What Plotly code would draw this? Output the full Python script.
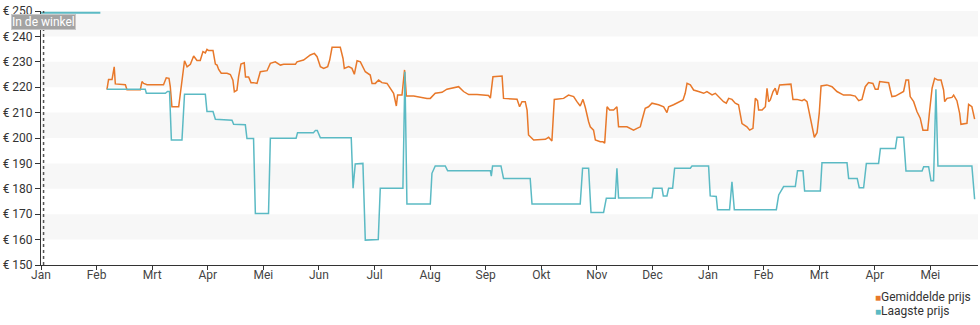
import plotly.graph_objects as go

# ---------------- data ----------------
month_labels = ["Jan", "Feb", "Mrt", "Apr", "Mei", "Jun", "Jul", "Aug", "Sep",
                "Okt", "Nov", "Dec", "Jan", "Feb", "Mrt", "Apr", "Mei"]
days_per_month = 30.44

y_ticks = [150, 160, 170, 180, 190, 200, 210, 220, 230, 240, 250]
y_tick_labels = ["€ 150", "€ 160", "€ 170", "€ 180", "€ 190", "€ 200",
                 "€ 210", "€ 220", "€ 230", "€ 240", "€ 250"]

# Gemiddelde prijs (day index since first Jan, price in euro)
avg_day = [36.1, 37.0, 38.9, 40.1, 40.7, 46.2, 47.1, 54.4, 55.3, 56.2, 58.1, 67.1, 68.6, 70.1,
           70.8, 71.7, 75.4, 76.3, 77.8, 78.6, 80.0, 81.8, 83.6, 85.4, 87.2, 88.7, 90.0, 90.9,
           91.8, 94.2, 95.5, 96.4, 97.3, 98.7, 101.9, 103.7, 105.1, 105.9, 107.3, 108.2, 109.5,
           111.3, 112.0, 113.7, 115.0, 116.4, 118.3, 120.1, 123.8, 125.6, 128.3, 131.1, 132.9,
           136.5, 139.3, 140.2, 143.8, 147.5, 149.7, 151.2, 153.0, 154.8, 157.0, 158.1, 159.4,
           163.9, 165.4, 166.1, 168.5, 170.3, 171.6, 173.1, 174.9, 177.6, 180.3, 181.3, 183.1,
           184.9, 186.7, 189.5, 191.3, 193.1, 194.6, 195.3, 197.7, 199.1, 200.1, 204.1, 211.4,
           213.2, 215.9, 219.6, 222.3, 226.0, 228.7, 231.4, 234.2, 238.8, 245.1, 246.1, 247.5,
           252.5, 253.3, 260.7, 262.1, 263.4, 265.2, 266.2, 267.0, 269.8, 276.2, 278.0, 279.8,
           281.1, 286.2, 288.9, 291.7, 293.5, 295.3, 296.8, 298.1, 299.9, 300.8, 302.6, 303.6,
           306.3, 307.8, 308.7, 310.0, 311.4, 313.6, 315.4, 316.3, 320.9, 324.5, 326.4, 328.2,
           329.1, 330.9, 332.7, 334.6, 338.2, 341.0, 342.8, 343.7, 346.4, 350.1, 351.6, 352.8,
           353.8, 355.6, 357.4, 360.1, 362.9, 364.7, 367.5, 369.3, 371.1, 373.8, 375.3, 376.6,
           378.4, 380.2, 382.0, 383.9, 386.6, 388.1, 389.9, 391.2, 392.4, 393.0, 394.9, 396.7,
           397.6, 398.5, 399.4, 400.9, 402.1, 403.1, 404.5, 410.7, 411.8, 414.0, 416.8, 418.0,
           419.5, 421.3, 422.8, 423.5, 425.0, 426.2, 427.2, 430.4, 433.2, 435.9, 439.5, 443.2,
           445.9, 447.8, 449.6, 451.4, 453.2, 455.6, 456.9, 458.4, 459.3, 464.2, 465.1, 466.0,
           467.9, 470.2, 472.4, 473.7, 475.1, 476.0, 477.9, 479.7, 481.5, 483.0, 485.6, 486.7,
           488.0, 489.4, 491.2, 492.9, 494.3, 494.9, 496.2, 498.9, 499.8, 501.6, 503.1, 503.8,
           507.1, 508.0, 509.8, 511.3]
avg_price = [219, 223, 223, 228, 221.3, 221, 219, 219, 222.2, 221.5, 221, 221, 223.7, 223.5,
             220.2, 212.3, 212.3, 217.6, 228.1, 230.4, 228, 229, 232.3, 230.5, 230.5, 234, 233.5,
             234.9, 234.4, 234.4, 229.1, 228.7, 227, 225.5, 225.5, 225, 222.8, 218.2, 218.8,
             224.1, 229.1, 229.6, 224, 224, 221.8, 221.8, 221.5, 226.1, 226.5, 229.4, 230, 228.7,
             229, 229, 229, 230, 230.7, 232.7, 233.3, 232, 228.1, 227.4, 228.1, 230.7, 235.7,
             235.7, 231.3, 227.4, 228.1, 227.4, 225.1, 230.4, 230, 226.1, 224.8, 221.5, 221.5,
             222.8, 221.8, 221.5, 219.6, 217.6, 212.6, 216.9, 216.9, 226.8, 216.5, 216.5, 215.6,
             215.6, 217.6, 218, 219.2, 219.9, 220.2, 218.3, 217.1, 217.1, 216.7, 215.7, 224.1,
             224.4, 215.6, 215.3, 212.3, 214.3, 214.3, 211, 201.2, 199.2, 199.5, 200.3, 198.8,
             215.2, 215.6, 216.9, 216.3, 214.3, 212.6, 215.2, 212, 206.4, 204.4, 203.1, 199.2,
             198.5, 198.5, 198, 212.3, 211, 211, 212.3, 204.4, 204.4, 203.1, 203.8, 204.4,
             207, 211.7, 212.3, 213.7, 213.1, 212.3, 210, 212.3, 213.1, 214.3, 215, 217.6,
             221.5, 220.9, 218.9, 218.3, 217.6, 218.3, 217, 217.6, 216.3, 214.3, 213.7, 215.6,
             215.2, 213.7, 213.1, 205.7, 204.4, 203.1, 203.8, 215.6, 214.7, 211, 211, 212.3,
             219.6, 214.3, 215, 218.3, 219.6, 217, 220.9, 221.2, 215.2, 215.2, 214.7, 215.2,
             214.3, 208.4, 203.1, 200.3, 202.1, 209.7, 220.5, 220.9, 220.2, 218.3, 216.9, 216.9,
             216.5, 214.7, 215.2, 220.2, 221.8, 221.5, 219.2, 219.2, 222.2, 221.8, 218.9, 216.3,
             216.5, 217.6, 218.3, 222.8, 222.8, 216.3, 214.3, 210.4, 207.8, 203.1, 203.1, 211,
             219.6, 223.5, 222.8, 222.8, 218.9, 214.3, 215.6, 216, 216.9, 214.7, 209.7, 205.4,
             205.8, 213.2, 212.3, 207.4]

# Laagste prijs
low_day = [36.1, 57.1, 57.7, 68.1, 69.3, 70.4, 71.4, 77.2, 78.6, 90.0, 90.9, 94.2, 95.5, 104.6,
           105.5, 111.9, 112.8, 116.4, 117.4, 124.6, 125.6, 139.7, 140.5, 149.2, 150.3, 151.3,
           153.0, 169.9, 170.9, 172.1, 176.3, 177.6, 184.7, 185.8, 198.2, 199.3, 200.4, 213.2,
           214.1, 215.9, 221.4, 222.7, 246.1, 246.6, 247.3, 251.9, 253.3, 267.9, 268.9, 295.3,
           296.6, 299.9, 301.2, 308.1, 309.6, 314.5, 315.4, 316.3, 334.6, 335.3, 340.1, 340.8,
           342.8, 343.7, 345.9, 347.0, 355.6, 356.5, 365.6, 366.5, 369.8, 370.5, 377.1, 378.4,
           379.7, 402.7, 404.0, 406.7, 413.1, 414.3, 417.3, 418.2, 426.8, 427.7, 441.4, 442.3,
           447.0, 448.1, 450.5, 452.0, 458.7, 459.7, 467.9, 468.8, 472.4, 473.7, 482.5, 483.4,
           486.1, 487.4, 488.8, 490.1, 491.2, 509.8, 511.3]
low_price = [219.2, 219.2, 217.6, 217.6, 218.3, 218.3, 199.2, 199.2, 217.2, 217.2, 210.4, 210.4,
             207.4, 207, 205.4, 205.2, 199.8, 199.8, 170.3, 170.3, 199.9, 199.9, 202.1, 202.1,
             203, 203, 200.1, 200.1, 180.2, 189.8, 190, 159.8, 160, 180.2, 180.2, 226.1, 174,
             174, 186.1, 189, 189, 187.1, 187.1, 185, 189, 189, 184.1, 184.1, 174, 174, 188.1,
             188.1, 170.7, 170.7, 176.3, 176.3, 188.1, 176.4, 176.5, 180.2, 180.2, 177.2, 177.2,
             180.2, 180.2, 188.1, 188.1, 189, 189, 177.2, 177, 171.8, 171.8, 182.8, 171.8, 171.8,
             177.6, 180.9, 180.9, 187.1, 187.1, 179.1, 179.1, 190.3, 190.3, 184.1, 184.1, 180.4,
             180.4, 190, 190, 195.9, 195.9, 200.3, 200.3, 187, 187, 188.7, 188.7, 183.2, 183.2,
             219.2, 189, 189, 175.9]

# "In de winkel" availability bar
store_day = [0, 32.5]
store_level = [249.3, 249.3]
store_marker_day = 1.4

y_bands = [(160, 170), (180, 190), (200, 210), (220, 230), (240, 250)]

ORANGE = "#e8782a"
TEAL = "#5bbac4"
FONT = "Roboto"

fig = go.Figure()
fig.add_trace(go.Scatter(x=avg_day, y=avg_price, mode="lines", name="Gemiddelde prijs",
                         line=dict(color=ORANGE, width=1.5), showlegend=False))
fig.add_trace(go.Scatter(x=low_day, y=low_price, mode="lines", name="Laagste prijs",
                         line=dict(color=TEAL, width=1.5), showlegend=False))
fig.add_trace(go.Scatter(x=store_day, y=store_level, mode="lines", name="In de winkel",
                         line=dict(color=TEAL, width=2), showlegend=False, cliponaxis=False))

shapes = []
for lo, hi in y_bands:
    shapes.append(dict(type="rect", xref="paper", yref="y", x0=0, x1=1, y0=lo, y1=hi,
                       fillcolor="#f7f7f7", line=dict(width=0), layer="below"))
shapes.append(dict(type="line", xref="x", yref="paper", x0=store_marker_day, x1=store_marker_day,
                   y0=0, y1=1, line=dict(color="#555555", width=1.5, dash="dot")))
fig.update_layout(shapes=shapes)

tickvals = [i * days_per_month for i in range(len(month_labels))]

fig.update_layout(
    width=980, height=325,
    margin=dict(l=41, r=2, t=11, b=60),
    paper_bgcolor="white", plot_bgcolor="white",
    font=dict(family=FONT, size=12, color="#333333"),
    xaxis=dict(range=[0, 937 / 1.826], tickvals=tickvals, ticktext=month_labels,
               showgrid=False, zeroline=False, showline=True, linecolor="#333333",
               linewidth=1, ticks="outside", ticklen=4, tickcolor="#333333",
               ticklabelstandoff=-5,
               tickfont=dict(family=FONT, size=12, color="#444444")),
    yaxis=dict(range=[150, 250], tickvals=y_ticks, ticktext=y_tick_labels,
               showgrid=False, zeroline=False, showline=True,
               linecolor="#333333", linewidth=1, ticks="outside", ticklen=5,
               tickcolor="#333333", tickfont=dict(family=FONT, size=12, color="#333333")),
    showlegend=False,
)

fig.add_annotation(xref="paper", yref="paper", x=-0.032, y=0.958, xanchor="left", yanchor="middle",
                   text="In de winkel", showarrow=False, bgcolor="#a3a3a3",
                   bordercolor="#c8c8c8", borderwidth=1, borderpad=0,
                   font=dict(family=FONT, size=12, color="white"))

legend_items = [("Gemiddelde prijs", ORANGE), ("Laagste prijs", TEAL)]
for i, (name, col) in enumerate(legend_items):
    fig.add_annotation(xref="paper", yref="paper", x=0.888, y=-0.125 - i * 0.055,
                       xanchor="left", yanchor="middle", showarrow=False,
                       text=f'<span style="color:{col};font-size:10px">■</span>{name}',
                       font=dict(family=FONT, size=12, color="#333333"))

fig.write_html("out.html")
